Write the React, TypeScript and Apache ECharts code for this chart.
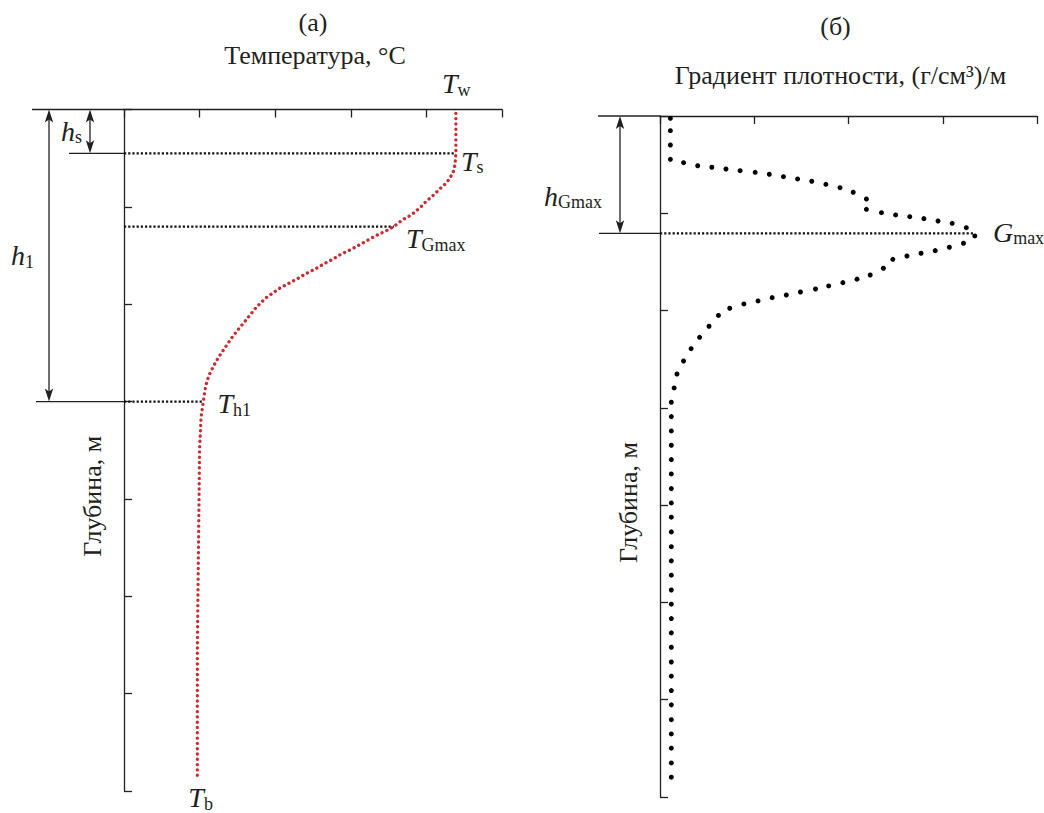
import React, { useEffect, useRef } from 'react';
import * as echarts from 'echarts';

const FONT = '"Liberation Serif", "DejaVu Serif", "Times New Roman", serif';
const INK = '#231f20';
const RED = '#cc2a30';

// ---------- Panel (а): temperature profile ----------
const DEPTH_MAX = 70;
const DEPTH_STEP = 10;
const TEMP_AXIS_MAX = 5;
const GRAD_AXIS_MAX = 4;

const TEMP_DEPTH = [
  0.39, 4.44, 5.53, 6.32, 7.07, 7.58, 7.99, 8.44, 8.96, 9.4, 9.91, 10.39, 10.83,
  11.35, 11.96, 12.45, 12.89, 13.4, 13.92, 14.43, 14.87, 15.38, 15.87, 16.38,
  16.89, 17.44, 18.4, 19.39, 20.31, 21.38, 22.41, 23.4, 24.42, 25.45, 26.41,
  27.37, 28.4, 29.94, 31.55, 34.8, 55.51, 68.86,
];
const TEMP_VALUE = [
  4.39, 4.39, 4.38, 4.36, 4.31, 4.26, 4.2, 4.14, 4.07, 4.0, 3.94, 3.87, 3.8,
  3.68, 3.58, 3.47, 3.35, 3.23, 3.11, 2.99, 2.87, 2.76, 2.64, 2.53,
  2.4, 2.28, 2.05, 1.87, 1.75, 1.64, 1.53, 1.43, 1.34, 1.25, 1.18,
  1.12, 1.08, 1.05, 1.02, 1.0, 0.97, 0.97,
];

const HS_DEPTH = 4.5;
const TS_TEMP = 4.39;
const TGMAX_DEPTH = 12.03;
const TGMAX_TEMP = 3.57;
const H1_DEPTH = 30.0;
const TH1_TEMP = 1.05;

// ---------- Panel (б): density gradient ----------
const GRAD_DEPTH = [
  0.24, 1.51, 2.98, 4.45, 4.8, 5.11, 5.27, 5.45, 5.62, 5.79, 5.99, 6.24, 6.47,
  6.71, 7.02, 7.37, 7.84, 8.53, 9.59, 9.94, 10.17, 10.35, 10.55, 10.79, 11.03,
  11.48, 12.33, 13.08, 13.49, 13.84, 14.11, 14.39, 14.73, 15.65, 16.34, 16.77,
  17.13, 17.47, 17.78, 18.09, 18.4, 18.67, 19.01, 19.32, 19.76, 20.5, 21.61,
  22.75, 23.92, 25.18, 26.52, 27.95, 29.42, 30.9, 32.37, 33.84, 35.32, 36.79,
  38.3, 39.77, 41.24, 42.75, 44.27, 45.73, 47.2, 48.72, 50.18, 51.66, 53.13,
  54.61, 56.12, 57.58, 59.06, 60.53, 62.05, 63.52, 64.98, 66.5, 67.96,
];
const GRAD_VALUE = [
  0.11, 0.11, 0.11, 0.11, 0.25, 0.4, 0.55, 0.7, 0.85, 1.01, 1.16, 1.31, 1.46,
  1.61, 1.76, 1.91, 2.05, 2.19, 2.19, 2.35, 2.5, 2.65, 2.8, 2.95, 3.1,
  3.25, 3.34, 3.22, 3.07, 2.92, 2.77, 2.62, 2.47, 2.37, 2.23, 2.09,
  1.94, 1.79, 1.65, 1.49, 1.34, 1.19, 1.04, 0.89, 0.74, 0.62, 0.52,
  0.42, 0.33, 0.25, 0.18, 0.15, 0.12, 0.12, 0.12, 0.12, 0.12, 0.12,
  0.12, 0.12, 0.12, 0.12, 0.12, 0.12, 0.12, 0.12, 0.12, 0.12, 0.12,
  0.12, 0.12, 0.12, 0.12, 0.12, 0.12, 0.12, 0.12, 0.12, 0.12,
];
const GMAX_DEPTH = 12.06;
const GMAX_VALUE = 3.32;

const TITLE_A = ['(а)', 'Температура, °С'];
const TITLE_B = ['(б)', 'Градиент плотности, (г/см³)/м'];
const DEPTH_NAME = 'Глубина, м';

function axisPair(grid: number, xMax: number) {
  const lineStyle = { color: INK, width: 1.3 };
  return {
    x: {
      type: 'value', gridIndex: grid, position: 'top', min: 0, max: xMax, interval: 1,
      axisLine: { show: true, onZero: false, lineStyle },
      axisTick: { show: true, inside: true, length: 8, lineStyle },
      axisLabel: { show: false }, splitLine: { show: false },
    },
    y: {
      type: 'value', gridIndex: grid, inverse: true, min: 0, max: DEPTH_MAX, interval: DEPTH_STEP,
      axisLine: { show: true, onZero: false, lineStyle },
      axisTick: { show: true, inside: true, length: 8, lineStyle },
      axisLabel: { show: false }, splitLine: { show: false },
    },
  };
}

const dottedBlack = { color: '#111111', width: 2.2, type: [2.2, 2] as any };

export default function App() {
  const ref = useRef<HTMLDivElement>(null);
  useEffect(() => {
    if (!ref.current) return;
    const chart = echarts.init(ref.current, null, { renderer: 'svg' });
    const a = axisPair(0, TEMP_AXIS_MAX);
    const b = axisPair(1, GRAD_AXIS_MAX);
    chart.setOption({
      animation: false,
      backgroundColor: '#ffffff',
      grid: [
        { left: 124, top: 109.5, width: 378, height: 681.5 },
        { left: 660, top: 116, width: 377, height: 681 },
      ],
      xAxis: [a.x, b.x],
      yAxis: [a.y, b.y],
      series: [
        {
          type: 'line', xAxisIndex: 0, yAxisIndex: 0, symbol: 'none', z: 4, clip: false,
          data: TEMP_VALUE.map((t, i) => [t, TEMP_DEPTH[i]]),
          lineStyle: { color: RED, width: 3.3, type: [0.1, 5.2] as any, cap: 'round' },
        },
        {
          type: 'line', xAxisIndex: 0, yAxisIndex: 0, symbol: 'none', z: 3,
          data: [[0, HS_DEPTH], [TS_TEMP, HS_DEPTH]], lineStyle: dottedBlack,
        },
        {
          type: 'line', xAxisIndex: 0, yAxisIndex: 0, symbol: 'none', z: 3,
          data: [[0, TGMAX_DEPTH], [TGMAX_TEMP, TGMAX_DEPTH]], lineStyle: dottedBlack,
        },
        {
          type: 'line', xAxisIndex: 0, yAxisIndex: 0, symbol: 'none', z: 3,
          data: [[0, H1_DEPTH], [TH1_TEMP, H1_DEPTH]], lineStyle: dottedBlack,
        },
        {
          type: 'scatter', xAxisIndex: 1, yAxisIndex: 1, symbol: 'circle', symbolSize: 5, z: 4,
          data: GRAD_VALUE.map((g, i) => [g, GRAD_DEPTH[i]]),
          itemStyle: { color: '#000000', opacity: 1 },
        },
        {
          type: 'line', xAxisIndex: 1, yAxisIndex: 1, symbol: 'none', z: 3,
          data: [[0, GMAX_DEPTH], [GMAX_VALUE, GMAX_DEPTH]], lineStyle: dottedBlack,
        },
      ],
    });

    const P = (g: number, x: number, y: number) =>
      chart.convertToPixel({ gridIndex: g } as any, [x, y]) as number[];

    const txt = (x: number, y: number, text: string, extra: any = {}) => ({
      type: 'text', x, y, silent: true,
      style: {
        text, fill: INK, fontFamily: FONT, fontSize: 26,
        align: 'center', verticalAlign: 'middle', ...extra,
      },
    });
    const sub = (x: number, y: number, main: string, s: string) => ({
      type: 'text', x, y, silent: true,
      style: {
        text: `{m|${main}}{s|${s}}`,
        align: 'left', verticalAlign: 'middle',
        rich: {
          m: { fill: INK, fontFamily: FONT, fontStyle: 'italic', fontSize: 28, lineHeight: 30 },
          s: { fill: INK, fontFamily: FONT, fontSize: 18, lineHeight: 14, verticalAlign: 'bottom' },
        },
      },
    });
    const hline = (x1: number, x2: number, y: number) => ({
      type: 'line', silent: true,
      shape: { x1, y1: y, x2, y2: y },
      style: { stroke: INK, lineWidth: 1.3 },
    });
    const arrow = (x: number, y1: number, y2: number) => [
      { type: 'line', silent: true, shape: { x1: x, y1: y1 + 8, x2: x, y2: y2 - 8 }, style: { stroke: INK, lineWidth: 1.3 } },
      { type: 'polygon', silent: true, shape: { points: [[x, y1], [x - 4.2, y1 + 13], [x, y1 + 10], [x + 4.2, y1 + 13]] }, style: { fill: INK } },
      { type: 'polygon', silent: true, shape: { points: [[x, y2], [x - 4.2, y2 - 13], [x, y2 - 10], [x + 4.2, y2 - 13]] }, style: { fill: INK } },
    ];

    // panel (а) reference pixels
    const a0 = P(0, 0, 0);
    const aX = a0[0];
    const aTop = a0[1];
    const aEnd = P(0, TEMP_AXIS_MAX, 0)[0];
    const yHs = P(0, 0, HS_DEPTH)[1];
    const yH1 = P(0, 0, H1_DEPTH)[1];
    const aMidX = (aX + aEnd) / 2;
    const pTw = P(0, TEMP_VALUE[0], 0);
    const pTs = P(0, TS_TEMP, HS_DEPTH);
    const pTg = P(0, TGMAX_TEMP, TGMAX_DEPTH);
    const pTh = P(0, TH1_TEMP, H1_DEPTH);
    const pTb = P(0, TEMP_VALUE[TEMP_VALUE.length - 1], TEMP_DEPTH[TEMP_DEPTH.length - 1]);
    const aBottom = P(0, 0, DEPTH_MAX)[1];

    // panel (б)
    const b0 = P(1, 0, 0);
    const bX = b0[0];
    const bTop = b0[1];
    const bEnd = P(1, GRAD_AXIS_MAX, 0)[0];
    const yG = P(1, 0, GMAX_DEPTH)[1];
    const pG = P(1, GMAX_VALUE, GMAX_DEPTH);
    const bBottom = P(1, 0, DEPTH_MAX)[1];

    const elements: any[] = [
      // titles
      txt(aMidX, 22, TITLE_A[0]),
      txt(aMidX + 2, 55, TITLE_A[1]),
      txt((bX + bEnd) / 2 - 13, 26, TITLE_B[0]),
      txt((bX + bEnd) / 2 - 8, 75, TITLE_B[1]),
      // axis names
      { ...txt(aX - 32, (aTop + aBottom) / 2 + 46, DEPTH_NAME), rotation: Math.PI / 2 },
      { ...txt(bX - 32, (bTop + bBottom) / 2 + 46, DEPTH_NAME), rotation: Math.PI / 2 },
      // panel (а) annotations
      hline(aX - 92, aX, aTop),
      hline(aX - 55, aX, yHs),
      hline(aX - 88, aX, yH1),
      ...arrow(aX - 75, aTop, yH1),
      ...arrow(aX - 34, aTop, yHs),
      sub(aX - 113, (aTop + yH1) / 2, 'h', '1'),
      sub(aX - 63, (aTop + yHs) / 2, 'h', 's'),
      sub(pTw[0] - 14, pTw[1] - 26, 'T', 'w'),
      sub(pTs[0] + 5, pTs[1] + 8, 'T', 's'),
      sub(pTg[0] + 12, pTg[1] + 12, 'T', 'Gmax'),
      sub(pTh[0] + 14, pTh[1] + 2, 'T', 'h1'),
      sub(pTb[0] - 9, pTb[1] + 18, 'T', 'b'),
      // panel (б) annotations
      hline(bX - 62, bX, bTop),
      hline(bX - 61, bX, yG),
      ...arrow(bX - 40, bTop, yG),
      sub(bX - 116, yG - 37, 'h', 'Gmax'),
      sub(pG[0] + 20, pG[1] - 1, 'G', 'max'),
    ];
    chart.setOption({ graphic: { elements } });

    return () => chart.dispose();
  }, []);

  return (
    <div
      ref={ref}
      style={{ position: 'fixed', left: 0, top: 0, width: 1044, height: 813, background: '#fff' }}
    />
  );
}
